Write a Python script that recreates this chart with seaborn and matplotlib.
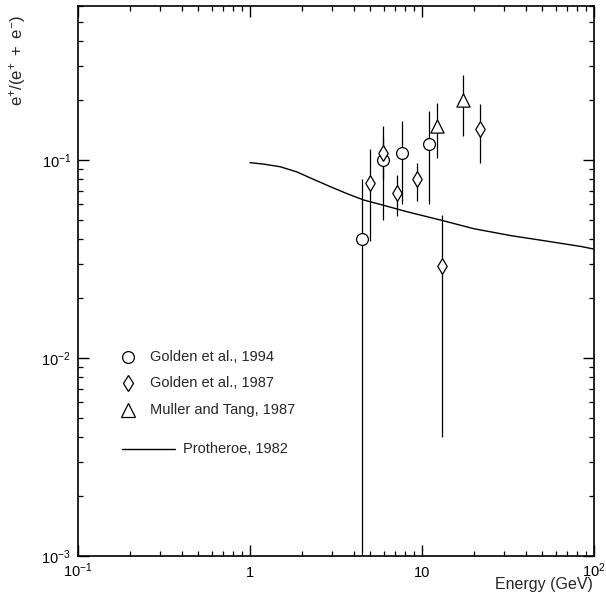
import numpy as np
import pandas as pd
import matplotlib
matplotlib.use("Agg")
import matplotlib.pyplot as plt
import matplotlib.ticker as mticker
import seaborn as sns

# Golden et al., 1994 (circles)
g94_energy = [4.5, 5.9, 7.7, 11.0]
g94_ratio = [0.040, 0.100, 0.109, 0.120]
g94_low = [0.0001, 0.050, 0.060, 0.060]
g94_high = [0.080, 0.131, 0.158, 0.177]

# Golden et al., 1987 (diamonds)
g87_energy = [5.0, 5.9, 7.2, 9.3, 13.0, 21.6]
g87_ratio = [0.077, 0.108, 0.068, 0.080, 0.029, 0.144]
g87_low = [0.039, 0.080, 0.052, 0.062, 0.0040, 0.097]
g87_high = [0.114, 0.148, 0.084, 0.097, 0.053, 0.192]

# Muller and Tang, 1987 (triangles)
mt_energy = [12.3, 17.4]
mt_ratio = [0.148, 0.200]
mt_low = [0.103, 0.132]
mt_high = [0.195, 0.270]

# Protheroe, 1982 (model curve)
pr_energy = [1.0, 1.2, 1.5, 1.88, 2.34, 2.94, 3.67, 4.59, 5.8, 8.2,
             12.9, 20.0, 33.0, 53.7, 84.0, 100.0]
pr_ratio = [0.097, 0.0954, 0.0925, 0.0870, 0.0799, 0.0733, 0.0676,
            0.0628, 0.0595, 0.0548, 0.0497, 0.0450, 0.0415, 0.0389, 0.0366,
            0.0355]

legend_labels = ["Golden et al., 1994", "Golden et al., 1987",
                 "Muller and Tang, 1987", "Protheroe, 1982"]

x_ticks = [0.1, 1, 10, 100]
x_tick_labels = [r"$10^{-1}$", "1", "10", r"$10^{2}$"]
y_ticks = [0.001, 0.01, 0.1]
y_tick_labels = [r"$10^{-3}$", r"$10^{-2}$", r"$10^{-1}$"]

sns.set_theme(style="ticks")
plt.rcParams["font.family"] = ["Liberation Sans", "DejaVu Sans"]
plt.rcParams["mathtext.fontset"] = "custom"
plt.rcParams["mathtext.rm"] = "Liberation Sans"
plt.rcParams["mathtext.it"] = "Liberation Sans"
plt.rcParams["mathtext.default"] = "regular"

fig = plt.figure(figsize=(6.06, 6.01), dpi=100)
ax = fig.add_axes([78 / 606, 1 - 556 / 601, (594 - 78) / 606, (556 - 6) / 601])

ax.set_xscale("log")
ax.set_yscale("log")
ax.set_xlim(0.1, 100)
ax.set_ylim(0.001, 0.6)

series = [
    (g94_energy, g94_ratio, g94_low, g94_high, "o", 8.5),
    (g87_energy, g87_ratio, g87_low, g87_high, "d", 8.0),
    (mt_energy, mt_ratio, mt_low, mt_high, "^", 9.5),
]

for e, r, lo, hi, mk, ms in series:
    ax.vlines(e, lo, hi, colors="black", linewidth=0.9, zorder=2)
    df = pd.DataFrame({"E": e, "R": r})
    sns.scatterplot(data=df, x="E", y="R", marker=mk, s=ms ** 2,
                    facecolor="white", edgecolor="black", linewidth=0.9,
                    ax=ax, zorder=3, legend=False)

pr_df = pd.DataFrame({"E": pr_energy, "R": pr_ratio})
sns.lineplot(data=pr_df, x="E", y="R", color="black", linewidth=1.0, ax=ax,
             zorder=2, legend=False)

# Legend block drawn in axes coordinates
tr = ax.transAxes
leg_rows = [(0.3618, "o", 8.5), (0.3145, "d", 8.0), (0.2655, "^", 9.5)]
for (yy, mk, ms), lab in zip(leg_rows, legend_labels[:3]):
    ax.plot([0.0969], [yy], marker=mk, markersize=ms, markerfacecolor="white",
            markeredgecolor="black", markeredgewidth=0.9, linestyle="none",
            transform=tr, clip_on=False)
    ax.text(0.1395, yy, lab, transform=tr, fontsize=10.5, va="center", ha="left")
ax.plot([0.0853, 0.188], [0.1945, 0.1945], color="black", linewidth=1.0, transform=tr)
ax.text(0.2035, 0.1945, legend_labels[3], transform=tr, fontsize=10.5,
        va="center", ha="left")

# Axes styling
for sp in ax.spines.values():
    sp.set_linewidth(1.2)
    sp.set_color("black")
ax.tick_params(which="both", direction="in", top=True, right=True,
               colors="black", labelsize=10.5)
ax.tick_params(which="major", length=8, width=1.0)
ax.tick_params(which="minor", length=3.5, width=0.9)
ax.xaxis.set_major_locator(mticker.FixedLocator(x_ticks))
ax.xaxis.set_major_formatter(mticker.FixedFormatter(x_tick_labels))
ax.yaxis.set_major_locator(mticker.FixedLocator(y_ticks))
ax.yaxis.set_major_formatter(mticker.FixedFormatter(y_tick_labels))
ax.xaxis.set_minor_locator(mticker.LogLocator(base=10, subs=np.arange(2, 10)))
ax.yaxis.set_minor_locator(mticker.LogLocator(base=10, subs=np.arange(2, 10)))
ax.xaxis.set_minor_formatter(mticker.NullFormatter())
ax.yaxis.set_minor_formatter(mticker.NullFormatter())
ax.tick_params(axis="x", which="major", pad=15)
for lab in ax.get_xticklabels():
    lab.set_verticalalignment("baseline")
ax.tick_params(axis="y", which="major", pad=5)

ax.set_xlabel("")
ax.set_ylabel("")
fig.text(593 / 606, 1 - 589 / 601, "Energy (GeV)", fontsize=11.5,
         ha="right", va="baseline")
fig.text(18 / 606, 1 - 60 / 601, r"$e^{+}/(e^{+}\ +\ e^{-})$", fontsize=12,
         rotation=90, ha="center", va="center")

fig.savefig("out.png", dpi=100)
